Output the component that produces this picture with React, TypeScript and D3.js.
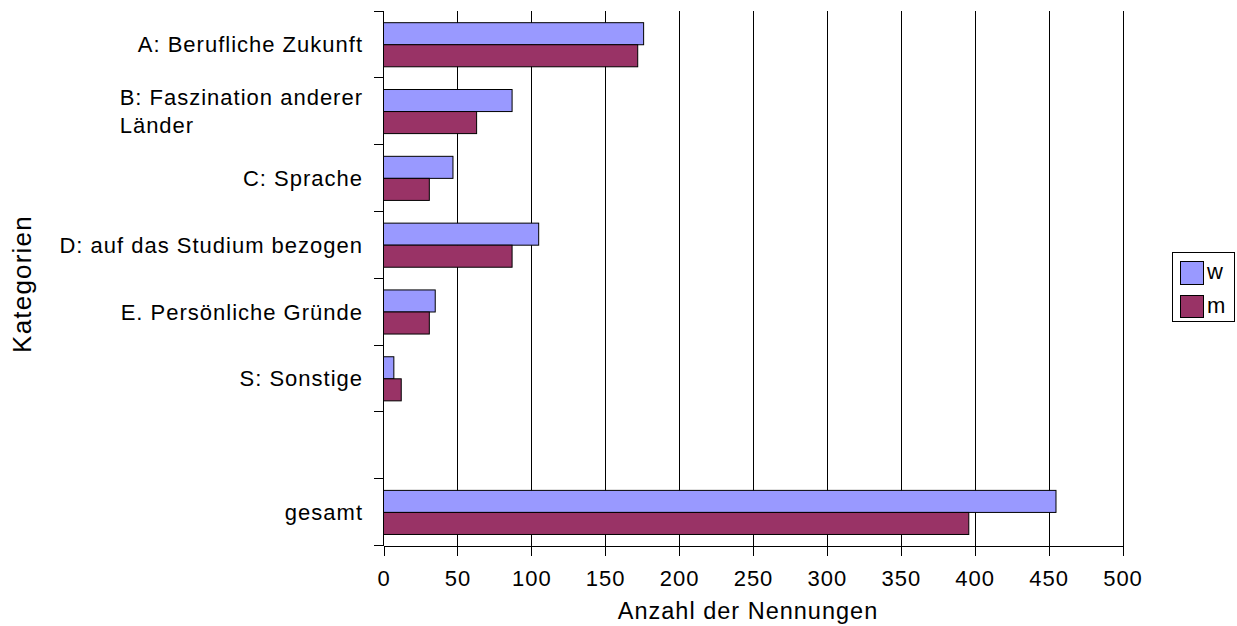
import React, { useEffect, useRef } from 'react';
import * as d3 from 'd3';

// categories top to bottom; the blank one is the gap before "gesamt"
const categories = ['A', 'B', 'C', 'D', 'E', 'S', 'gap', 'gesamt'];
const categoryLabels: string[][] = [
  ['A: Berufliche Zukunft'],
  ['B: Faszination anderer', 'Länder'],
  ['C: Sprache'],
  ['D: auf das Studium bezogen'],
  ['E. Persönliche Gründe'],
  ['S: Sonstige'],
  [],
  ['gesamt'],
];
const valuesW: (number | null)[] = [176, 87, 47, 105, 35, 7, null, 455];
const valuesM: (number | null)[] = [172, 63, 31, 87, 31, 12, null, 396];
const seriesNames = ['w', 'm'];
const seriesColors = ['#9999ff', '#993366'];
const xTicks = [0, 50, 100, 150, 200, 250, 300, 350, 400, 450, 500];

const W = 1237;
const H = 626;
const FONT = '"Liberation Sans", Arial, sans-serif';

const drawChart = (container: SVGSVGElement) => {
  const svg = d3.select(container);
  svg.selectAll('*').remove();

  const x = d3.scaleLinear().domain([0, 500]).range([383.5, 1122.5]);
  const y = d3.scaleBand<string>().domain(categories).range([11, 545.5]).padding(0);
  const bw = y.bandwidth();
  const barH = bw * 0.33;
  const groupOff = bw * 0.175;

  // gridlines
  const grid = svg.append('g').attr('shape-rendering', 'crispEdges');
  grid
    .selectAll('line')
    .data(xTicks.filter((t) => t > 0))
    .enter()
    .append('line')
    .attr('x1', (d) => Math.round(x(d)) + 0.5)
    .attr('x2', (d) => Math.round(x(d)) + 0.5)
    .attr('y1', 11)
    .attr('y2', 545.5)
    .attr('stroke', '#000');

  // bars
  const series = [valuesW, valuesM];
  series.forEach((vals, si) => {
    svg
      .append('g')
      .selectAll('rect')
      .data(categories.map((c, i) => ({ c, v: vals[i] })).filter((d) => d.v !== null))
      .enter()
      .append('rect')
      .attr('x', x(0))
      .attr('y', (d) => (y(d.c) as number) + groupOff + si * barH)
      .attr('width', (d) => x(d.v as number) - x(0))
      .attr('height', barH)
      .attr('fill', seriesColors[si])
      .attr('stroke', '#000')
      .attr('stroke-width', 1);
  });

  // x axis
  const xAxis = d3
    .axisBottom(x)
    .tickValues(xTicks)
    .tickSize(10)
    .tickPadding(6)
    .tickFormat((d) => String(d));
  const xg = svg
    .append('g')
    .attr('transform', 'translate(0,545.5)')
    .attr('shape-rendering', 'crispEdges')
    .call(xAxis);
  xg.select('.domain').attr('stroke', '#000');
  xg.selectAll('.tick line').attr('stroke', '#000');
  xg.selectAll('.tick text')
    .attr('font-family', FONT)
    .attr('font-size', 22)
    .attr('letter-spacing', 1)
    .attr('fill', '#000')
    .attr('dy', null)
    .attr('y', 40);

  // y axis line and ticks at band boundaries
  const yg = svg.append('g').attr('shape-rendering', 'crispEdges');
  yg.append('line')
    .attr('x1', 383.5)
    .attr('x2', 383.5)
    .attr('y1', 11)
    .attr('y2', 545.5)
    .attr('stroke', '#000');
  const bounds = categories.map((c) => y(c) as number).concat([y.range()[1]]);
  yg.selectAll('line.tk')
    .data(bounds)
    .enter()
    .append('line')
    .attr('class', 'tk')
    .attr('x1', 373.5)
    .attr('x2', 383.5)
    .attr('y1', (d) => d)
    .attr('y2', (d) => d)
    .attr('stroke', '#000');

  // category labels
  const lineH = 28;
  categories.forEach((c, i) => {
    const lines = categoryLabels[i];
    if (!lines.length) return;
    const cy = (y(c) as number) + bw / 2;
    const t = svg
      .append('text')
      .attr('font-family', FONT)
      .attr('font-size', 22)
      .attr('letter-spacing', 1)
      .attr('fill', '#000');
    const startY = cy - ((lines.length - 1) * lineH) / 2 + 8;
    lines.forEach((ln, li) => {
      t.append('tspan').attr('x', 0).attr('y', startY + li * lineH).text(ln);
    });
    // right-align the block, keep lines left-aligned
    const spans = t.selectAll<SVGTSpanElement, unknown>('tspan').nodes();
    const maxW = d3.max(spans, (s) => s.getComputedTextLength()) || 0;
    t.selectAll('tspan').attr('x', 363 - maxW);
  });

  // axis titles
  svg
    .append('text')
    .attr('x', 748)
    .attr('y', 619)
    .attr('text-anchor', 'middle')
    .attr('font-family', FONT)
    .attr('font-size', 23.5)
    .attr('letter-spacing', 1)
    .text('Anzahl der Nennungen');
  svg
    .append('text')
    .attr('transform', 'translate(31,284) rotate(-90)')
    .attr('text-anchor', 'middle')
    .attr('font-family', FONT)
    .attr('font-size', 26)
    .attr('letter-spacing', 1.2)
    .text('Kategorien');

  // legend
  const lg = svg.append('g').attr('shape-rendering', 'crispEdges');
  lg.append('rect')
    .attr('x', 1172.5)
    .attr('y', 252.5)
    .attr('width', 61.5)
    .attr('height', 69)
    .attr('fill', '#fff')
    .attr('stroke', '#000');
  seriesNames.forEach((name, i) => {
    lg.append('rect')
      .attr('x', 1180.5)
      .attr('y', 261.5 + i * 33.5)
      .attr('width', 22.5)
      .attr('height', 22.5)
      .attr('fill', seriesColors[i])
      .attr('stroke', '#000');
    lg.append('text')
      .attr('x', 1207)
      .attr('y', 279 + i * 34)
      .attr('font-family', FONT)
      .attr('font-size', 22)
      .attr('letter-spacing', 1)
      .text(name);
  });
};

export default function App() {
  const ref = useRef<SVGSVGElement>(null);
  useEffect(() => {
    if (ref.current) drawChart(ref.current);
  }, []);
  return (
    <svg
      ref={ref}
      width={W}
      height={H}
      style={{ position: 'absolute', left: 0, top: 0, background: '#fff' }}
    />
  );
}
